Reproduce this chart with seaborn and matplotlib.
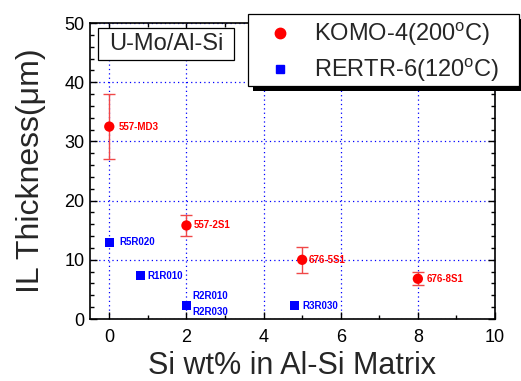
import matplotlib
matplotlib.use("Agg")
import matplotlib.pyplot as plt
import seaborn as sns
import pandas as pd
from matplotlib.ticker import MultipleLocator
from matplotlib.lines import Line2D
from matplotlib.patches import Rectangle

komo_x = [0, 2, 5, 8]
komo_y = [32.5, 15.8, 10.0, 6.8]
komo_lo = [27.0, 14.0, 7.8, 5.8]
komo_hi = [38.0, 17.5, 12.2, 8.0]
komo_labels = ["557-MD3", "557-2S1", "676-5S1", "676-8S1"]

rertr_x = [0, 0.8, 2, 2, 4.8]
rertr_y = [13.0, 7.3, 2.2, 2.2, 2.2]
rertr_labels = ["R5R020", "R1R010", "R2R010", "R2R030", "R3R030"]

series_names = ["KOMO-4(200$^{\\rm o}$C)", "RERTR-6(120$^{\\rm o}$C)"]

sns.set_theme(style="ticks")
plt.rcParams['font.family'] = ['Liberation Sans', 'DejaVu Sans']
plt.rcParams['mathtext.fontset'] = 'custom'
plt.rcParams['mathtext.rm'] = 'Liberation Sans'

W, H = 521, 381
fig = plt.figure(figsize=(W / 100, H / 100), dpi=100)
ax = fig.add_axes([90 / W, 1 - 319 / H, (495 - 90) / W, (319 - 23) / H])

ax.grid(True, which="major", color="blue", linestyle=(0, (1, 2.5)), linewidth=0.9)
ax.set_axisbelow(True)

yerr = [[y - l for y, l in zip(komo_y, komo_lo)], [h - y for y, h in zip(komo_y, komo_hi)]]
ax.errorbar(komo_x, komo_y, yerr=yerr, fmt="none", ecolor="#f04848", elinewidth=1,
            capsize=4.5, capthick=1, zorder=2)

df_k = pd.DataFrame({"x": komo_x, "y": komo_y})
df_r = pd.DataFrame({"x": rertr_x, "y": rertr_y})
sns.scatterplot(data=df_k, x="x", y="y", color="red", marker="o", s=55,
                edgecolor="none", ax=ax, zorder=3, legend=False)
sns.scatterplot(data=df_r, x="x", y="y", color="blue", marker="s", s=42,
                edgecolor="none", ax=ax, zorder=3, legend=False)

k_off = [(7, 0), (5, 0), (5, 0), (6, 0)]
for (x, y, t), o in zip(zip(komo_x, komo_y, komo_labels), k_off):
    ax.annotate(t, (x, y), xytext=o, textcoords="offset points",
                color="red", fontsize=7, fontweight="bold", va="center", ha="left")
r_off = [(7, 0), (5, 0), (4, 7), (4, -4), (6, 0)]
for (x, y, t), o in zip(zip(rertr_x, rertr_y, rertr_labels), r_off):
    ax.annotate(t, (x, y), xytext=o, textcoords="offset points",
                color="blue", fontsize=7, fontweight="bold", va="center", ha="left")

ax.set_xlim(-0.5, 10)
ax.set_ylim(0, 50)
ax.xaxis.set_major_locator(MultipleLocator(2))
ax.xaxis.set_minor_locator(MultipleLocator(1))
ax.yaxis.set_major_locator(MultipleLocator(10))
ax.yaxis.set_minor_locator(MultipleLocator(2))
ax.tick_params(which="both", direction="in", top=True, right=True, labelsize=13, colors="black")
ax.tick_params(which="major", length=5, width=1)
ax.tick_params(which="minor", length=3, width=1)
ax.tick_params(axis="x", pad=7)
ax.tick_params(axis="y", pad=4)
for sp in ax.spines.values():
    sp.set_color("black")
    sp.set_linewidth(1.2)

ax.set_xlabel("Si wt% in Al-Si Matrix", fontsize=22, labelpad=4)
ax.set_ylabel("IL Thickness(\u03bcm)", fontsize=23, labelpad=13)

# U-Mo/Al-Si box
ax.add_patch(Rectangle(((98 - 90) / 405, (319 - 60) / 296), 136 / 405, 32 / 296,
                       transform=ax.transAxes, facecolor="white", edgecolor="black",
                       linewidth=0.9, zorder=4))
ax.text((166 - 90) / 405, (319 - 44) / 296, "U-Mo/Al-Si", transform=ax.transAxes,
        fontsize=17, va="center", ha="center", zorder=5)

# legend frame with shadow (drawn as figure patches)
fig.add_artist(Rectangle((253 / W, 1 - 91 / H), 271 / W, 72 / H, transform=fig.transFigure,
                         facecolor="black", edgecolor="none", zorder=4))
fig.add_artist(Rectangle((248 / W, 1 - 86 / H), 271 / W, 72 / H, transform=fig.transFigure,
                         facecolor="white", edgecolor="black", linewidth=0.9, zorder=4.5))
handles = [Line2D([], [], marker="o", color="red", linestyle="none", markersize=7.5),
           Line2D([], [], marker="s", color="blue", linestyle="none", markersize=6)]
leg = fig.legend(handles, series_names,
                 loc="center left", bbox_to_anchor=(248 / W, 1 - 52 / H),
                 borderaxespad=0, fontsize=17, frameon=False,
                 handletextpad=0.1, borderpad=0, labelspacing=0.35,
                 handlelength=2.7)
leg.set_zorder(5)

fig.savefig("out.png", dpi=100)
